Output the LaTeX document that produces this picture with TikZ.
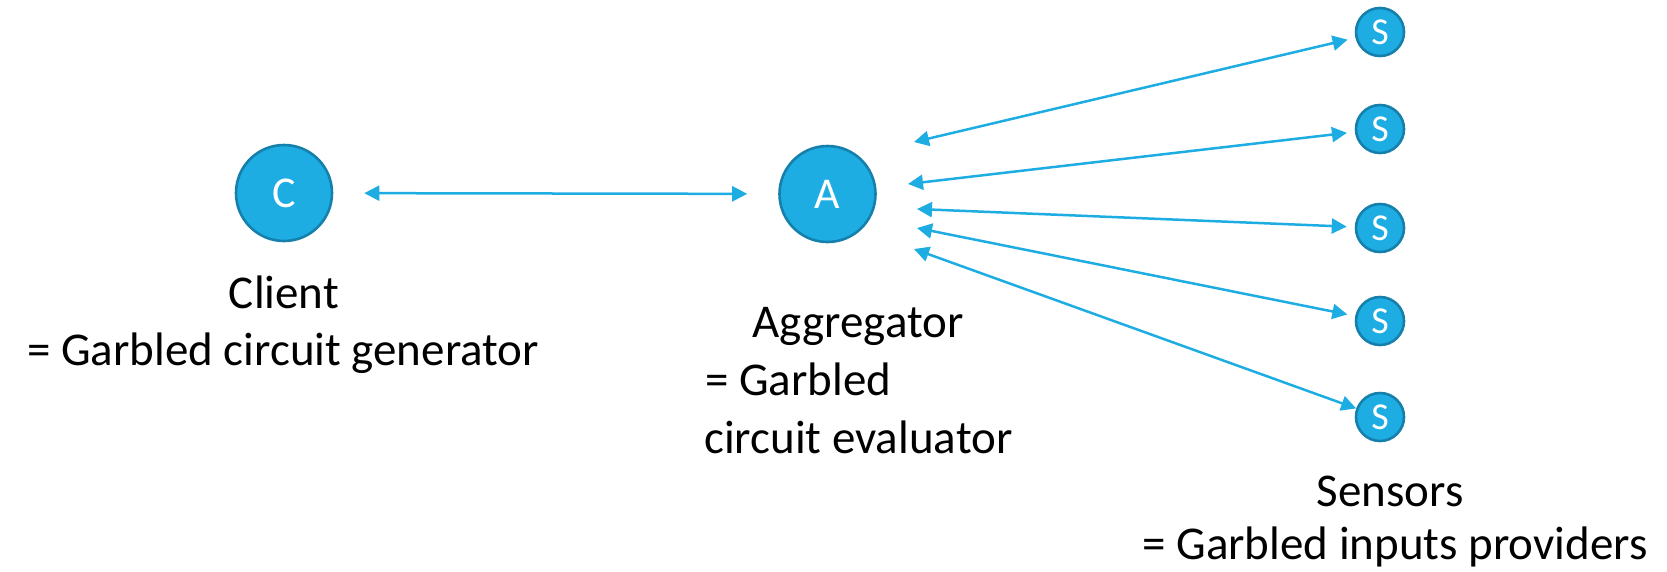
\documentclass[tikz,border=0pt]{standalone}
\usepackage{fontspec}
\setmainfont{Carlito}
\usetikzlibrary{arrows.meta}
\definecolor{nodefill}{HTML}{1EADE3}
\definecolor{nodeline}{HTML}{1580AC}
\definecolor{arrowcol}{HTML}{1EADE3}
\tikzset{
  bignode/.style={circle, fill=nodefill, draw=nodeline, line width=2.6pt, minimum size=96pt, inner sep=0pt, text=white, font=\fontsize{44}{44}\selectfont},
  smallnode/.style={circle, fill=nodefill, draw=nodeline, line width=2.6pt, minimum size=48pt, inner sep=0pt, text=white, font=\fontsize{38}{38}\selectfont},
  link/.style={draw=arrowcol, line width=2.5pt, {Triangle[length=15pt,width=15pt]}-{Triangle[length=15pt,width=15pt]}},
  lbl/.style={inner sep=0pt, text=black, font=\fontsize{47}{57}\selectfont}
}
\begin{document}
\begin{tikzpicture}[x=1pt,y=-1pt]
\useasboundingbox (0,0) rectangle (1667,571);
% nodes
\node[bignode] (C) at (284,193) {C};
\node[bignode] (A) at (827.5,194) {A};
\node[smallnode] (s1) at (1380,32) {S};
\node[smallnode] (s2) at (1380,129) {S};
\node[smallnode] (s3) at (1380,228) {S};
\node[smallnode] (s4) at (1380,321) {S};
\node[smallnode] (s5) at (1380,417) {S};
% free ends near the aggregator
\coordinate (a1) at (914,142);
\coordinate (a2) at (908,184);
\coordinate (a3) at (917,209);
\coordinate (a4) at (917,228);
\coordinate (a5) at (914,249);
% connectors
\draw[link, shorten <=31pt, shorten >=31pt] (C) -- (A);
\draw[link, shorten >=8pt] (a1) -- (s1);
\draw[link, shorten >=8pt] (a2) -- (s2);
\draw[link, shorten >=8pt] (a3) -- (s3);
\draw[link, shorten >=8pt] (a4) -- (s4);
\draw[link, shorten >=0pt] (a5) -- (s5);
% labels
\node[lbl, anchor=base] (client1) at (284,308) {Client};
\node[lbl, anchor=base] (client2) at (283,365) {= Garbled circuit generator};
\node[lbl, anchor=base] (agg1) at (858,337) {Aggregator};
\node[lbl, anchor=base west] (agg2) at (705,395) {= Garbled};
\node[lbl, anchor=base west] (agg3) at (704,453) {circuit evaluator};
\node[lbl, anchor=base] (sens1) at (1390,506) {Sensors};
\node[lbl, anchor=base] (sens2) at (1395,559) {= Garbled inputs providers};
\end{tikzpicture}
\end{document}
